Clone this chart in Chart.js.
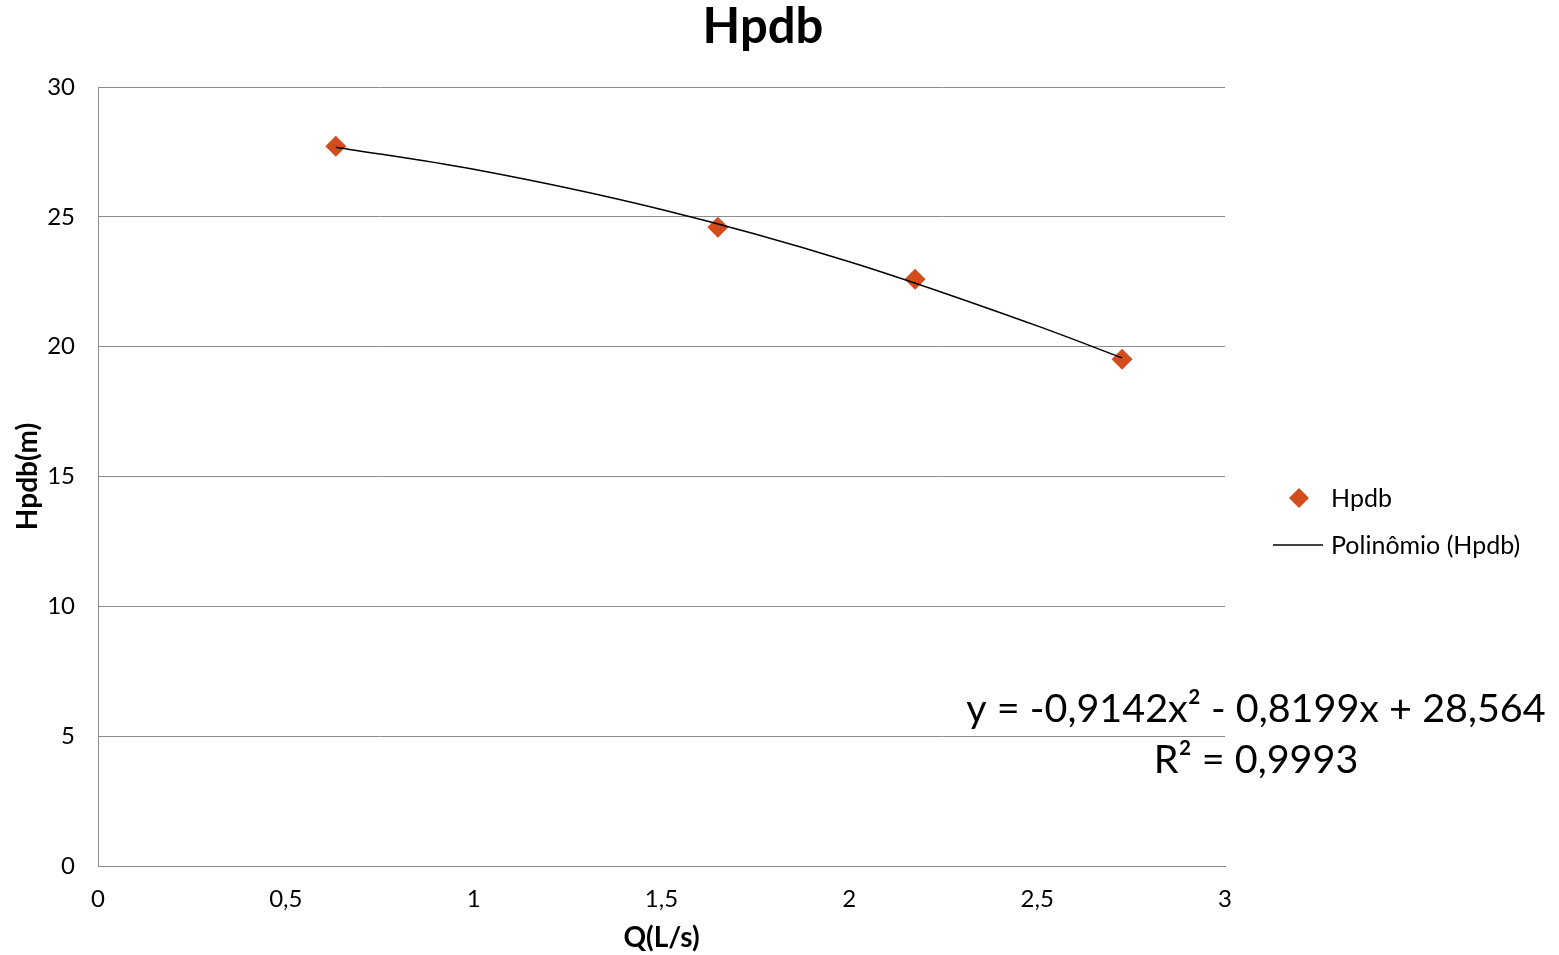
<!DOCTYPE html>
<html lang="pt">
<head>
<meta charset="UTF-8">
<title>Hpdb</title>
<script src="https://cdn.jsdelivr.net/npm/chart.js"></script>
<style>
  body { margin: 0; background: #fff; }
  #wrap { width: 1559px; height: 955px; }
</style>
</head>
<body>
<div id="wrap"><canvas id="hpdbChart" width="1559" height="955"></canvas></div>
<script>
// measured points (Q in L/s, Hpdb in m)
var qValues = [0.633, 1.650, 2.175, 2.726];
var hValues = [27.72, 24.60, 22.60, 19.52];

// trendline
var trendQ = [0.633, 1.0, 1.5, 2.0, 2.5, 2.726];
var trendH = [27.68, 26.83, 25.28, 23.27, 20.80, 19.57];

var xTicks = [0, 0.5, 1, 1.5, 2, 2.5, 3];
var yTicks = [0, 5, 10, 15, 20, 25, 30];

var chartTitle = 'Hpdb';
var eqLines = ['y = -0,9142x\u00B2 - 0,8199x + 28,564', 'R\u00B2 = 0,9993'];

var FONT = 'Lato, "DejaVu Sans", sans-serif';
var markerColor = '#D24C1C';
var gridColor = '#8c8c8c';

function toPoints(xs, ys) {
    var out = [];
    for (var i = 0; i < xs.length; i++) out.push({ x: xs[i], y: ys[i] });
    return out;
}

function comma(v) {
    return String(v).replace('.', ',');
}

// title, legend and equation drawn by hand to sit where Excel put them
var extrasPlugin = {
    id: 'extras',
    afterDraw: function (chart) {
        var ctx = chart.ctx;
        ctx.save();
        ctx.fillStyle = '#000';
        ctx.textAlign = 'center';
        ctx.textBaseline = 'alphabetic';
        ctx.font = 'bold 49px ' + FONT;
        ctx.fillText(chartTitle, 763, 43);

        // legend
        var ds = chart.data.datasets;
        ctx.font = '25px ' + FONT;
        ctx.textAlign = 'left';
        ctx.textBaseline = 'middle';
        ctx.fillStyle = markerColor;
        ctx.beginPath();
        ctx.moveTo(1299, 488); ctx.lineTo(1309, 498); ctx.lineTo(1299, 508); ctx.lineTo(1289, 498);
        ctx.closePath();
        ctx.fill();
        ctx.fillStyle = '#000';
        ctx.fillText(ds[0].label, 1331, 499);
        ctx.strokeStyle = '#000';
        ctx.lineWidth = 1.5;
        ctx.beginPath();
        ctx.moveTo(1273, 545); ctx.lineTo(1323, 545);
        ctx.stroke();
        ctx.fillText(ds[1].label, 1331, 546);

        // equation
        ctx.textAlign = 'center';
        ctx.textBaseline = 'alphabetic';
        ctx.font = '39.5px ' + FONT;
        ctx.fillText(eqLines[0], 1256, 722);
        ctx.fillText(eqLines[1], 1256, 773);
        ctx.restore();
    }
};

var ctx = document.getElementById('hpdbChart').getContext('2d');
var hpdbChart = new Chart(ctx, {
    type: 'scatter',
    data: {
        datasets: [
            {
                label: 'Hpdb',
                data: toPoints(qValues, hValues),
                pointStyle: 'rectRot',
                pointRadius: 10.5,
                pointHoverRadius: 10.5,
                backgroundColor: markerColor,
                borderColor: markerColor,
                borderWidth: 0,
                showLine: false,
                order: 1
            },
            {
                label: 'Polinômio (Hpdb)',
                data: toPoints(trendQ, trendH),
                showLine: true,
                borderColor: '#000',
                borderWidth: 1.5,
                pointRadius: 0,
                cubicInterpolationMode: 'monotone',
                fill: false,
                order: 0
            }
        ]
    },
    options: {
        responsive: false,
        animation: false,
        layout: { padding: { top: 87, left: 0, right: 334, bottom: 0 } },
        plugins: {
            legend: { display: false },
            title: { display: false },
            tooltip: { enabled: false }
        },
        scales: {
            x: {
                type: 'linear',
                min: 0,
                max: 3,
                afterFit: function (s) { s.height = 89; },
                afterBuildTicks: function (s) { s.ticks = xTicks.map(function (v) { return { value: v }; }); },
                grid: { display: false, drawTicks: false },
                border: { display: true, color: gridColor, width: 1 },
                ticks: {
                    padding: 19,
                    maxRotation: 0,
                    color: '#000',
                    font: { family: FONT, size: 24 },
                    callback: function (v) { return comma(v); }
                },
                title: {
                    display: true,
                    text: 'Q(L/s)',
                    color: '#000',
                    font: { family: FONT, size: 28, weight: 'bold' },
                    padding: { top: 4, bottom: 0 }
                }
            },
            y: {
                min: 0,
                max: 30,
                afterFit: function (s) { s.width = 98; },
                afterBuildTicks: function (s) { s.ticks = yTicks.map(function (v) { return { value: v }; }); },
                grid: { color: gridColor, lineWidth: 1, drawTicks: false },
                border: { display: true, color: gridColor, width: 1 },
                ticks: {
                    padding: 23,
                    color: '#000',
                    font: { family: FONT, size: 24 },
                    callback: function (v) { return comma(v); }
                },
                title: {
                    display: true,
                    text: 'Hpdb(m)',
                    color: '#000',
                    font: { family: FONT, size: 28, weight: 'bold' },
                    padding: { top: 11, bottom: 4 }
                }
            }
        }
    },
    plugins: [extrasPlugin]
});
</script>
</body>
</html>
